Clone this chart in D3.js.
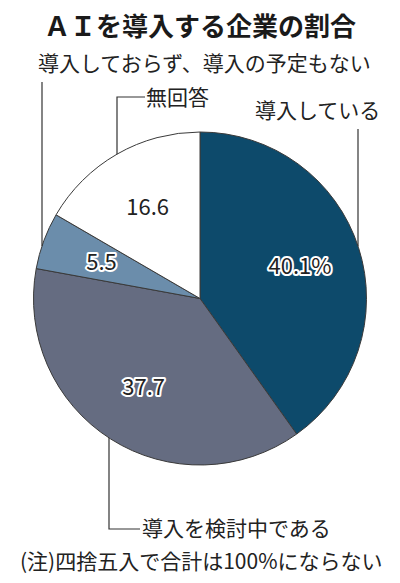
<!DOCTYPE html>
<html><head><meta charset="utf-8">
<script src="https://cdn.jsdelivr.net/npm/d3@7"></script>
<style>
html,body{margin:0;padding:0;background:#fff;}
text{font-family:"Noto Sans CJK JP","Noto Sans",sans-serif;}
</style></head>
<body>
<script>
const categories = ["導入している","導入を検討中である","導入しておらず、導入の予定もない","無回答"];
const values = [40.1, 37.7, 5.5, 16.6];
const valueLabels = ["40.1%","37.7","5.5","16.6"];
const colors = ["#0d4a6b","#656c81","#6b8dab","#ffffff"];

const W=400,H=583, cx=200, cy=298.5, R=166.5;
const svg=d3.select("body").append("svg").attr("width",W).attr("height",H);
svg.append("rect").attr("width",W).attr("height",H).attr("fill","#fff");

svg.append("text").attr("x",200).attr("y",36).attr("text-anchor","middle")
  .attr("font-size",26).attr("font-weight",700).attr("fill","#1a1a1a").text("ＡＩを導入する企業の割合");

const pie=d3.pie().sort(null).value(d=>d)(values);
const arc=d3.arc().innerRadius(0).outerRadius(R);
const labelArc=d3.arc().innerRadius(105).outerRadius(105);
const g=svg.append("g").attr("transform",`translate(${cx},${cy})`);
g.selectAll("path").data(pie).join("path").attr("d",arc)
  .attr("fill",(d,i)=>colors[i]).attr("stroke","#3a3a3a").attr("stroke-width",1);
g.selectAll("text.v").data(pie).join("text").attr("class","v")
  .attr("transform",d=>`translate(${labelArc.centroid(d)})`)
  .attr("text-anchor","middle").attr("dy","0.36em").attr("font-size",22)
  .attr("fill","#222").attr("stroke","#fff").attr("stroke-width",4).attr("stroke-linejoin","round")
  .style("paint-order","stroke").text((d,i)=>valueLabels[i]);

// leader lines
function edgeY(x, below){const dx=x-cx;const dy=Math.sqrt(R*R-dx*dx);return below?cy+dy:cy-dy;}
const line=d3.line();
const leaders=[
  {pts:[[358,129],[358,edgeY(358,false)]]},
  {pts:[[109,edgeY(109,true)],[109,529],[140,529]]},
  {pts:[[42,82],[42,edgeY(42,false)]]},
  {pts:[[145,97],[117,97],[117,edgeY(117,false)]]}
];
svg.selectAll("path.l").data(leaders).join("path").attr("class","l")
  .attr("d",d=>line(d.pts)).attr("fill","none").attr("stroke","#333").attr("stroke-width",1.2);

const catLabels=[
  {t:categories[0],x:255,y:118},
  {t:categories[1],x:142,y:536},
  {t:categories[2],x:38,y:71},
  {t:categories[3],x:146,y:105}
];
svg.selectAll("text.c").data(catLabels).join("text").attr("class","c")
  .attr("x",d=>d.x).attr("y",d=>d.y).attr("font-size",21).attr("fill","#222").text(d=>d.t);

svg.append("text").attr("x",20).attr("y",569).attr("font-size",21).attr("fill","#222")
  .text("(注)四捨五入で合計は100%にならない");
</script>
</body></html>
